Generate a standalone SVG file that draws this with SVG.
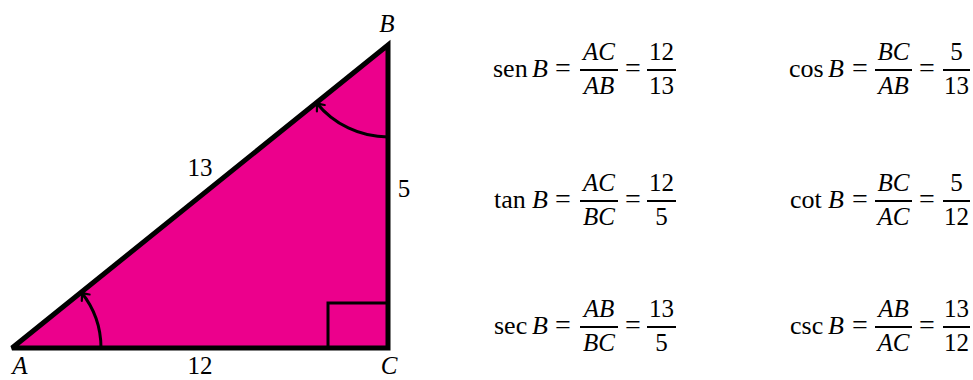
<svg xmlns="http://www.w3.org/2000/svg" width="973" height="380" viewBox="0 0 973 380">
<style>
text{font-family:"Liberation Serif","Times New Roman",serif;font-size:25px;fill:#000}
.i{font-style:italic}
.m{text-anchor:middle}
.f{font-size:26px}
.q{font-size:28px;text-anchor:middle}
.bar{stroke:#000;stroke-width:2}
.arc{fill:none;stroke:#000;stroke-width:3}
</style>
<defs>
<marker id="arr" markerUnits="userSpaceOnUse" markerWidth="20" markerHeight="20" viewBox="-10 -10 20 20" refX="0" refY="0" orient="auto">
<path d="M-7,-5 Q-3,-1 0,0 Q-3,1 -7,5" fill="none" stroke="#000" stroke-width="2.2" stroke-linecap="round" stroke-linejoin="round"/>
</marker>
</defs>
<g id="triangle">
<path d="M12,348 L388,45 L388,348 Z" fill="#EC008C" stroke="#000" stroke-width="5" stroke-linejoin="miter" stroke-miterlimit="2.5"/>
<path d="M328,348 V303 H388" fill="none" stroke="#000" stroke-width="3"/>
</g>
<g id="connectors">
<path class="arc" d="M101,348 A89,89 0 0 0 81.3,292.2" marker-end="url(#arr)"/>
<path class="arc" d="M388,137 A92,92 0 0 1 316.4,102.7" marker-end="url(#arr)"/>
</g>
<g id="labels">
<text class="i m" x="387" y="32">B</text>
<text class="i m" x="20" y="374">A</text>
<text class="i m" x="389" y="374">C</text>
<text class="m" x="200" y="374">12</text>
<text class="m" x="200" y="176">13</text>
<text class="m" x="404" y="197">5</text>
</g>
<g id="sen">
<text class="f" x="493" y="77">sen</text><text class="i f" x="532" y="77">B</text>
<text class="q" x="563" y="77">=</text>
<text class="i m" x="599" y="60">AC</text><line class="bar" x1="580" y1="70" x2="618" y2="70"/><text class="i m" x="599" y="94">AB</text>
<text class="q" x="633" y="77">=</text>
<text class="m" x="661.5" y="60">12</text><line class="bar" x1="647" y1="70" x2="676" y2="70"/><text class="m" x="661.5" y="94">13</text>
</g>
<g id="cos">
<text class="f" x="789" y="77">cos</text><text class="i f" x="828" y="77">B</text>
<text class="q" x="860" y="77">=</text>
<text class="i m" x="893.5" y="60">BC</text><line class="bar" x1="875" y1="70" x2="912" y2="70"/><text class="i m" x="893.5" y="94">AB</text>
<text class="q" x="927" y="77">=</text>
<text class="m" x="956.5" y="60">5</text><line class="bar" x1="943" y1="70" x2="970" y2="70"/><text class="m" x="956.5" y="94">13</text>
</g>
<g id="tan">
<text class="f" x="494" y="208">tan</text><text class="i f" x="532" y="208">B</text>
<text class="q" x="563" y="208">=</text>
<text class="i m" x="599" y="191">AC</text><line class="bar" x1="580" y1="201" x2="618" y2="201"/><text class="i m" x="599" y="225">BC</text>
<text class="q" x="633" y="208">=</text>
<text class="m" x="661.5" y="191">12</text><line class="bar" x1="647" y1="201" x2="676" y2="201"/><text class="m" x="661.5" y="225">5</text>
</g>
<g id="cot">
<text class="f" x="790" y="208">cot</text><text class="i f" x="828" y="208">B</text>
<text class="q" x="860" y="208">=</text>
<text class="i m" x="893.5" y="191">BC</text><line class="bar" x1="875" y1="201" x2="912" y2="201"/><text class="i m" x="893.5" y="225">AC</text>
<text class="q" x="927" y="208">=</text>
<text class="m" x="956.5" y="191">5</text><line class="bar" x1="943" y1="201" x2="970" y2="201"/><text class="m" x="956.5" y="225">12</text>
</g>
<g id="sec">
<text class="f" x="494" y="334">sec</text><text class="i f" x="532" y="334">B</text>
<text class="q" x="563" y="334">=</text>
<text class="i m" x="599" y="317">AB</text><line class="bar" x1="580" y1="327" x2="618" y2="327"/><text class="i m" x="599" y="351">BC</text>
<text class="q" x="633" y="334">=</text>
<text class="m" x="661.5" y="317">13</text><line class="bar" x1="647" y1="327" x2="676" y2="327"/><text class="m" x="661.5" y="351">5</text>
</g>
<g id="csc">
<text class="f" x="790" y="334">csc</text><text class="i f" x="828" y="334">B</text>
<text class="q" x="860" y="334">=</text>
<text class="i m" x="893.5" y="317">AB</text><line class="bar" x1="875" y1="327" x2="912" y2="327"/><text class="i m" x="893.5" y="351">AC</text>
<text class="q" x="927" y="334">=</text>
<text class="m" x="956.5" y="317">13</text><line class="bar" x1="943" y1="327" x2="970" y2="327"/><text class="m" x="956.5" y="351">12</text>
</g>
</svg>
